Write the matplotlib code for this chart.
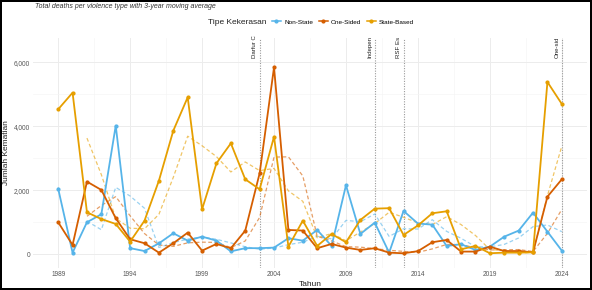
import matplotlib
matplotlib.use("Agg")
import matplotlib.pyplot as plt
from matplotlib.lines import Line2D
import pandas as pd

plt.rcParams['font.family'] = ['Liberation Sans', 'DejaVu Sans']

years = list(range(1989, 2025))
non_state = [2050, 50, 1000, 1250, 4020, 190, 100, 340, 656, 425, 550, 425, 90, 190,
             190, 207, 500, 425, 760, 259, 2156, 634, 988, 50, 1353, 960, 925, 259,
             313, 134, 238, 550, 738, 1300, 706, 113]
one_sided = [1000, 290, 2270, 2010, 1125, 469, 344, 50, 344, 675, 113, 322, 188, 738,
             2531, 5844, 760, 740, 188, 322, 207, 135, 188, 50, 30, 97, 375, 447,
             83, 83, 238, 100, 100, 60, 1800, 2343]
state_based = [4531, 5050, 1312, 1100, 947, 394, 1050, 2300, 3863, 4906, 1406, 2843,
               3468, 2343, 2031, 3675, 238, 1050, 259, 634, 375, 1072, 1425, 1440, 603,
               900, 1281, 1343, 156, 259, 31, 50, 50, 60, 5384, 4697]

series_names = ["Non-State", "One-Sided", "State-Based"]
series_colors = ["#56B4E9", "#D55E00", "#E69F00"]

event_years = [2003, 2011, 2013, 2024]
event_labels = ["Darfur C", "Indepen", "RSF Es", "One-sid"]

xticks = [1989, 1994, 1999, 2004, 2009, 2014, 2019, 2024]
yticks = [0, 2000, 4000, 6000]

df = pd.DataFrame({"Tahun": years, "Non-State": non_state,
                   "One-Sided": one_sided, "State-Based": state_based})

fig = plt.figure(figsize=(5.92, 2.90), dpi=100)
fig.patch.set_facecolor("white")
fig.patch.set_edgecolor("black")
fig.patch.set_linewidth(1.5)

ax = fig.add_axes([33/592, 1-268/290, (587-33)/592, (268-38)/290])
ax.set_facecolor("white")
for s in ax.spines.values():
    s.set_visible(False)

ax.set_xlim(1987.25, 2025.75)
ax.set_ylim(-430, 6760)
ax.set_xticks(xticks)
ax.set_xticks([x + 2.5 for x in xticks[:-1]], minor=True)
ax.set_yticks(yticks)
ax.set_yticks([1000, 3000, 5000], minor=True)
ax.set_yticklabels([f"{v:,}" for v in yticks])
ax.grid(True, which="major", color="#ECECEC", linewidth=0.7)
ax.grid(True, which="minor", color="#F4F4F4", linewidth=0.45)
ax.set_axisbelow(True)
ax.tick_params(which="both", length=0, labelsize=4.7, labelcolor="#555555", pad=2)

for yr, lab in zip(event_years, event_labels):
    ax.axvline(yr, color="#9A9A9A", linestyle=(0, (1, 1.3)), linewidth=0.8, zorder=1)
    ax.text(yr - 0.15, 6134, lab, rotation=90, ha="right", va="bottom",
            fontsize=4.4, color="#222222")

handles = []
for name, col in zip(series_names, series_colors):
    ma = df[name].rolling(3).mean()
    ax.plot(df["Tahun"], ma, color=col, linestyle=(0, (3, 2)), linewidth=0.9,
            alpha=0.6, zorder=2)
for name, col in zip(series_names, series_colors):
    ax.plot(df["Tahun"], df[name], color=col, linewidth=1.3, marker="o",
            markersize=2.0, zorder=3)
    handles.append(Line2D([0], [0], color=col, linewidth=1.1, marker="o",
                          markersize=2.0))

ax.set_xlabel("Tahun", fontsize=6, color="#222222", labelpad=2)
ax.set_ylabel("Jumlah Kematian", fontsize=6, color="#222222", labelpad=3)

fig.text(35/592, 1-6/290, "Total deaths per violence type with 3-year moving average",
         fontsize=5.0, style="italic", color="#333333", ha="left", va="center")
fig.text(208/592, 1-22/290, "Tipe Kekerasan", fontsize=6, color="#222222",
         ha="left", va="center")
fig.legend(handles, series_names, loc="center left", bbox_to_anchor=(272/592, 1-22/290),
           ncol=3, frameon=False, fontsize=4.6, handlelength=1.4, handletextpad=0.5,
           columnspacing=0.9, borderaxespad=0, borderpad=0)

fig.savefig("out.png", dpi=100, facecolor=fig.get_facecolor(), edgecolor=fig.get_edgecolor())
